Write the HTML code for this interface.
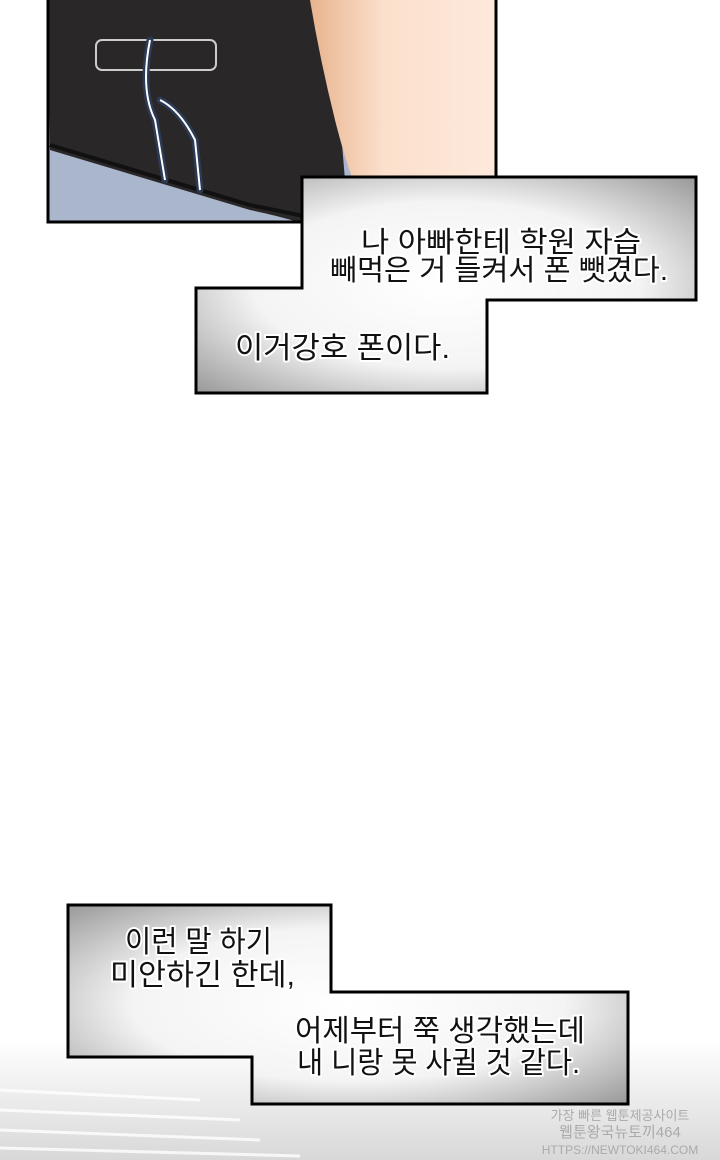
<!DOCTYPE html>
<html><head><meta charset="utf-8"><style>
html,body{margin:0;padding:0;background:#fff;width:720px;height:1160px;overflow:hidden}
text{font-family:"Liberation Sans","Noto Sans CJK KR",sans-serif;fill:#111;stroke:#fff;stroke-width:4px;paint-order:stroke;stroke-linejoin:round}
</style></head><body>
<svg width="720" height="1160" viewBox="0 0 720 1160" xmlns="http://www.w3.org/2000/svg">
<defs>
<radialGradient id="g1" cx="0.5" cy="0.5" r="0.7">
<stop offset="0" stop-color="#fff"/><stop offset="0.55" stop-color="#f4f4f4"/><stop offset="1" stop-color="#9a9a9a"/>
</radialGradient>
<linearGradient id="bot" x1="0" y1="0" x2="0" y2="1">
<stop offset="0" stop-color="#fff"/><stop offset="1" stop-color="#d8d8d8"/>
</linearGradient>
<linearGradient id="skin" x1="0" y1="0" x2="1" y2="0">
<stop offset="0" stop-color="#e8b48f"/><stop offset="0.4" stop-color="#fbe0cc"/><stop offset="1" stop-color="#fde9dc"/>
</linearGradient>
</defs>
<rect x="0" y="1040" width="720" height="120" fill="url(#bot)"/>
<g stroke="#fff" stroke-width="3" opacity="0.8">
<line x1="0" y1="1090" x2="200" y2="1100"/><line x1="0" y1="1110" x2="240" y2="1120"/><line x1="0" y1="1130" x2="260" y2="1140"/><line x1="0" y1="1148" x2="300" y2="1156"/>
</g>
<rect x="48" y="0" width="448" height="222" fill="#a9b6cc"/>
<path d="M48 0 H330 L350 240 Q300 220 250 210 L50 150 Z" fill="#2a2729"/>
<path d="M50 145 L250 205 Q300 215 345 225" stroke="#111" stroke-width="4" fill="none"/>
<rect x="96" y="40" width="120" height="30" rx="6" fill="none" stroke="#ccc" stroke-width="2"/>
<path d="M310 0 H496 V222 H370 Q350 180 335 120 Q320 60 310 0Z" fill="url(#skin)"/>
<path d="M150 40 Q140 90 155 120 L165 180 M160 100 Q180 110 195 140 L200 190" stroke="#2b3a55" stroke-width="7" fill="none" stroke-linecap="round"/>
<path d="M150 40 Q140 90 155 120 L165 180 M160 100 Q180 110 195 140 L200 190" stroke="#fff" stroke-width="2" fill="none"/>
<rect x="48" y="-2" width="448" height="224" fill="none" stroke="#000" stroke-width="3"/>
<path d="M302 177 H696 V300 H487 V393 H196 V288 H302 Z" fill="url(#g1)" stroke="#000" stroke-width="3"/>
<text x="361" y="252" font-size="29" textLength="280" lengthAdjust="spacingAndGlyphs">나 아빠한테 학원 자습</text>
<text x="330" y="280" font-size="29" textLength="338" lengthAdjust="spacingAndGlyphs">빼먹은 거 들켜서 폰 뺏겼다.</text>
<text x="235" y="358" font-size="30" textLength="215" lengthAdjust="spacingAndGlyphs">이거강호 폰이다.</text>
<path d="M68 905 H331 V992 H628 V1104 H252 V1057 H68 Z" fill="url(#g1)" stroke="#000" stroke-width="3"/>
<text x="125" y="952" font-size="30" textLength="147" lengthAdjust="spacingAndGlyphs">이런 말 하기</text>
<text x="110" y="985" font-size="30" textLength="185" lengthAdjust="spacingAndGlyphs">미안하긴 한데,</text>
<text x="295" y="1041" font-size="30" textLength="290" lengthAdjust="spacingAndGlyphs">어제부터 쭉 생각했는데</text>
<text x="297" y="1073" font-size="30" textLength="283" lengthAdjust="spacingAndGlyphs">내 니랑 못 사귈 것 같다.</text>
<text x="620" y="1120" font-size="13" text-anchor="middle" style="fill:#aaa;stroke:none">가장 빠른 웹툰제공사이트</text>
<text x="620" y="1137" font-size="15" text-anchor="middle" style="fill:#aaa;stroke:none">웹툰왕국뉴토끼464</text>
<text x="620" y="1154" font-size="12" text-anchor="middle" style="fill:#aaa;stroke:none">HTTPS://NEWTOKI464.COM</text>
</svg>
</body></html>
